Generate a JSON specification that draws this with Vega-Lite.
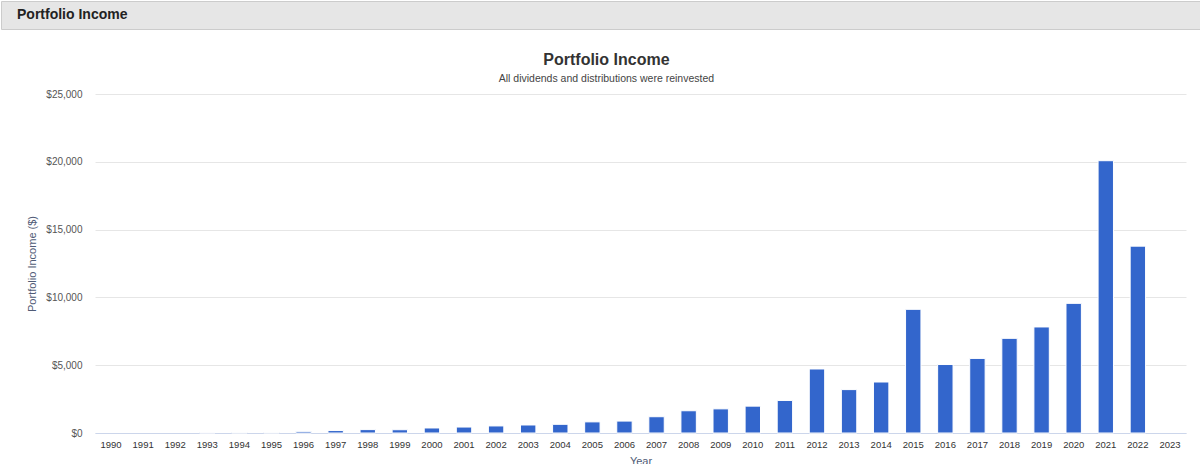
{
  "$schema": "https://vega.github.io/schema/vega-lite/v6.json",
  "padding": 0,
  "autosize": {"type": "pad"},
  "background": "white",
  "spacing": 65,
  "center": true,
  "bounds": "flush",
  "config": {
    "font": "Liberation Sans",
    "view": {"stroke": null},
    "axis": {"labelFont": "Liberation Sans", "titleFont": "Liberation Sans"},
    "title": {"font": "Liberation Sans", "subtitleFont": "Liberation Sans"}
  },
  "vconcat": [
    {
      "width": 1279,
      "height": 28,
      "view": {"fill": "#e6e6e6", "stroke": "#cccccc", "strokeWidth": 1},
      "data": {"values": [{"label": "Portfolio Income"}]},
      "mark": {"type": "text", "align": "left", "baseline": "middle", "dx": 16, "fontSize": 14, "fontWeight": "bold", "color": "#222222"},
      "encoding": {
        "x": {"datum": 0, "type": "quantitative", "scale": {"domain": [0, 1]}, "axis": null},
        "text": {"field": "label", "type": "nominal"}
      }
    },
    {
      "width": 1091,
      "height": 339,
      "title": {
        "text": "Portfolio Income",
        "subtitle": "All dividends and distributions were reinvested",
        "anchor": "middle",
        "frame": "bounds",
        "fontSize": 16,
        "fontWeight": "bold",
        "color": "#333333",
        "subtitleFontSize": 10.5,
        "subtitleColor": "#444444",
        "subtitlePadding": 5.5,
        "offset": 5
      },
      "data": {
        "values": [
          {"year": "1990", "income": null},
          {"year": "1991", "income": null},
          {"year": "1992", "income": null},
          {"year": "1993", "income": 30},
          {"year": "1994", "income": 40},
          {"year": "1995", "income": 40},
          {"year": "1996", "income": 120},
          {"year": "1997", "income": 180},
          {"year": "1998", "income": 250},
          {"year": "1999", "income": 240},
          {"year": "2000", "income": 370},
          {"year": "2001", "income": 440},
          {"year": "2002", "income": 520},
          {"year": "2003", "income": 590},
          {"year": "2004", "income": 640},
          {"year": "2005", "income": 820},
          {"year": "2006", "income": 880},
          {"year": "2007", "income": 1200},
          {"year": "2008", "income": 1640},
          {"year": "2009", "income": 1780},
          {"year": "2010", "income": 1980},
          {"year": "2011", "income": 2400},
          {"year": "2012", "income": 4720},
          {"year": "2013", "income": 3200},
          {"year": "2014", "income": 3760},
          {"year": "2015", "income": 9120},
          {"year": "2016", "income": 5050},
          {"year": "2017", "income": 5500},
          {"year": "2018", "income": 6980},
          {"year": "2019", "income": 7820},
          {"year": "2020", "income": 9560},
          {"year": "2021", "income": 20080},
          {"year": "2022", "income": 13780},
          {"year": "2023", "income": null}
        ]
      },
      "mark": {"type": "bar", "color": "#3366cc", "stroke": "#ffffff", "strokeWidth": 1},
      "encoding": {
        "x": {
          "field": "year",
          "type": "ordinal",
          "scale": {
            "domain": ["1990","1991","1992","1993","1994","1995","1996","1997","1998","1999","2000","2001","2002","2003","2004","2005","2006","2007","2008","2009","2010","2011","2012","2013","2014","2015","2016","2017","2018","2019","2020","2021","2022","2023"],
            "paddingInner": 0.52,
            "paddingOuter": 0.26
          },
          "axis": {
            "title": "Year",
            "labelAngle": 0,
            "labelFontSize": 9.5,
            "labelColor": "#333333",
            "labelPadding": 6,
            "ticks": false,
            "domainColor": "#ccd6eb",
            "domainWidth": 1,
            "titleFontSize": 11,
            "titleFontWeight": "normal",
            "titleColor": "#4f5b76",
            "titlePadding": 7
          }
        },
        "y": {
          "field": "income",
          "type": "quantitative",
          "scale": {"domain": [0, 25000]},
          "axis": {
            "title": "Portfolio Income ($)",
            "format": "$,.0f",
            "values": [0, 5000, 10000, 15000, 20000, 25000],
            "domain": false,
            "ticks": false,
            "gridColor": "#e6e6e6",
            "labelFontSize": 10,
            "labelColor": "#555555",
            "labelPadding": 13,
            "titleFontSize": 11,
            "titleFontWeight": "normal",
            "titleColor": "#4f5b76",
            "titlePadding": 8
          }
        }
      }
    }
  ]
}
